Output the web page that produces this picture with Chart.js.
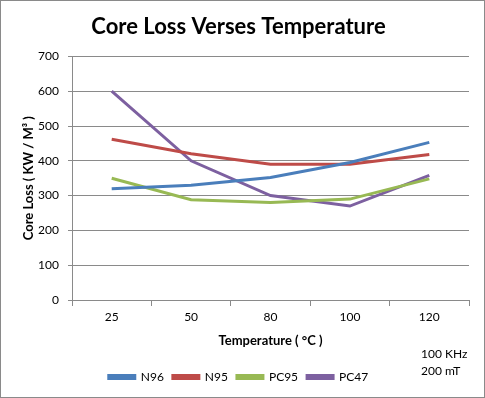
<!DOCTYPE html>
<html><head><meta charset="utf-8">
<script src="https://cdn.jsdelivr.net/npm/chart.js@4"></script>
<style>html,body{margin:0;padding:0;background:#fff}#wrap{width:485px;height:398px;position:relative}</style>
</head><body><div id="wrap"><canvas id="c" width="485" height="398"></canvas></div>
<script>
const categories = ["25","50","80","100","120"];
const seriesNames = ["N96","N95","PC95","PC47"];
const n96 = [320,330,352,395,453];
const n95 = [462,420,390,390,418];
const pc95 = [350,288,280,290,348];
const pc47 = [600,400,300,270,358];
const yTicks = [0,100,200,300,400,500,600,700];
const notes = ["100 KHz","200 mT"];
const colors = ["#4a7ebb","#be4b48","#98b954","#7d60a0"];
const FONT = "Lato, 'Open Sans', sans-serif";

const borderPlugin = {
  id:'border',
  afterDraw(chart){
    const ctx = chart.ctx;
    ctx.save();
    ctx.strokeStyle = '#8a8a8a'; ctx.lineWidth = 1;
    ctx.strokeRect(0.5,0.5,chart.width-1,chart.height-1);
    ctx.fillStyle = '#000'; ctx.font = '12px ' + FONT; ctx.textAlign='left'; ctx.textBaseline='middle';
    ctx.fillText(notes[0], 421, 354);
    ctx.fillText(notes[1], 421, 371);
    ctx.restore();
  }
};

const data = {
  labels: categories,
  datasets: [n96,n95,pc95,pc47].map((d,i)=>({
    label: seriesNames[i], data: d, borderColor: colors[i], backgroundColor: colors[i],
    borderWidth: 3, pointRadius: 0, tension: 0, fill: false
  }))
};

new Chart(document.getElementById('c'), {
  type:'line', data,
  plugins:[borderPlugin],
  options:{
    responsive:false, animation:false,
    layout:{padding:{left:8,right:16,top:6,bottom:5}},
    plugins:{
      title:{display:true,text:'Core Loss Verses Temperature',color:'#000',font:{family:FONT,size:22,weight:'bold'},padding:{top:8,bottom:16}},
      legend:{position:'bottom',labels:{color:'#000',font:{family:FONT,size:12},boxWidth:26,boxHeight:3,padding:9}},
      tooltip:{enabled:false}
    },
    scales:{
      x:{
        offset:true,
        grid:{offset:true,drawOnChartArea:false,tickLength:6,color:'#8a8a8a'},
        border:{color:'#8a8a8a'},
        ticks:{color:'#000',font:{family:FONT,size:12},padding:4,maxRotation:0},
        title:{display:true,text:'Temperature ( °C )',color:'#000',font:{family:FONT,size:13,weight:'bold'},padding:{top:0,bottom:13}},
        afterFit(s){s.height=62;}
      },
      y:{
        min:0,max:700,
        afterBuildTicks(s){s.ticks = yTicks.map(v=>({value:v}));},
        grid:{color:'#8a8a8a',tickLength:4},
        border:{color:'#8a8a8a'},
        ticks:{color:'#000',font:{family:FONT,size:12},padding:9},
        title:{display:true,text:'Core Loss ( KW / M³ )',color:'#000',font:{family:FONT,size:13,weight:'bold'},padding:{top:13,bottom:0}},
        afterFit(s){s.width=64;}
      }
    }
  }
});
</script></body></html>
